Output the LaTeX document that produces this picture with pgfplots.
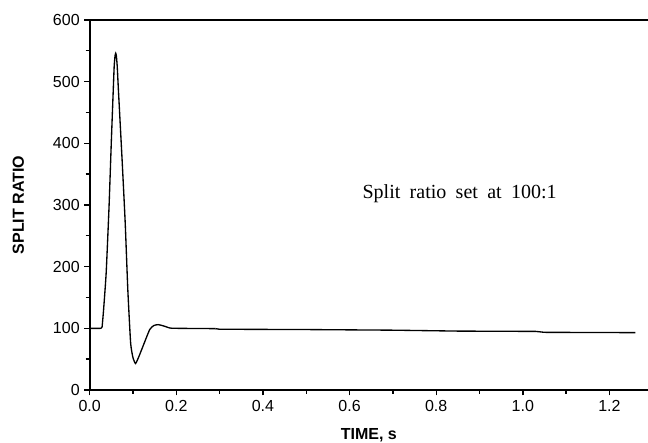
\documentclass[border=0pt]{standalone}
\usepackage{pgfplots}
\pgfplotsset{compat=1.18}
\usepackage{fontspec}
\setmainfont{Liberation Sans}
\newfontfamily\timesfont{Liberation Serif}
\begin{document}
\begin{tikzpicture}
\begin{axis}[
  scale only axis,
  width=418.7pt, height=277.5pt,
  xmin=0, xmax=1.289, ymin=0, ymax=600,
  axis lines*=left,
  axis line style={line width=1.3pt},
  xtick={0,0.2,...,1.2},
  minor xtick={0.1,0.3,...,1.3},
  ytick={0,100,...,600},
  minor ytick={50,150,...,550},
  tick align=outside,
  major tick length=4pt,
  minor tick length=3pt,
  every tick/.style={line width=1pt, black},
  tick label style={font=\fontsize{12}{14}\selectfont},
  /pgf/number format/assume math mode=true,
  xticklabel style={/pgf/number format/.cd, fixed, fixed zerofill, precision=1},
  yticklabel style={/pgf/number format/.cd, fixed, precision=0},
  xlabel={\bfseries TIME, s},
  ylabel={\bfseries SPLIT RATIO},
  label style={font=\fontsize{12}{14}\selectfont\bfseries},
  xlabel style={at={(rel axis cs:0.5,-0.1216)}, anchor=center},
  ylabel style={at={(rel axis cs:-0.128,0.5)}, anchor=center},
  clip=false,
]
\addplot[black, line width=1pt, smooth, tension=0.3] coordinates {
(0,100) (0.026,100) (0.0285,102) (0.032,130) (0.038,190) (0.0446,297)
(0.050,405) (0.054,480) (0.0565,525) (0.0585,542) (0.060,546) (0.0615,542) (0.0635,525) (0.066,490) (0.069,450)
(0.075,370) (0.082,270) (0.088,162) (0.0945,76) (0.100,52) (0.106,43)
(0.114,55) (0.123,71) (0.1385,98) (0.148,104.5) (0.158,106) (0.170,104)
(0.185,100.5) (0.2,100) (0.29,99.5)
};
\addplot[black, line width=1pt] coordinates {
(0.29,99.5) (0.30,98.5) (0.50,98) (0.70,97) (0.85,95.5) (1.03,95) (1.05,93.5) (1.26,93)
};
\draw[line width=1pt] (rel axis cs:0,1) -- (rel axis cs:1,1);
\node[font=\timesfont\fontsize{15}{17}\selectfont, anchor=center] at (axis cs:0.854,319) {\spaceskip=7pt Split ratio set at 100:1};
\coordinate (bl) at (rel axis cs:-0.1607,-0.1432);
\coordinate (tr) at (rel axis cs:1,1.054);
\end{axis}
\pgfresetboundingbox
\path[use as bounding box] (bl) rectangle (tr);
\end{tikzpicture}
\end{document}
